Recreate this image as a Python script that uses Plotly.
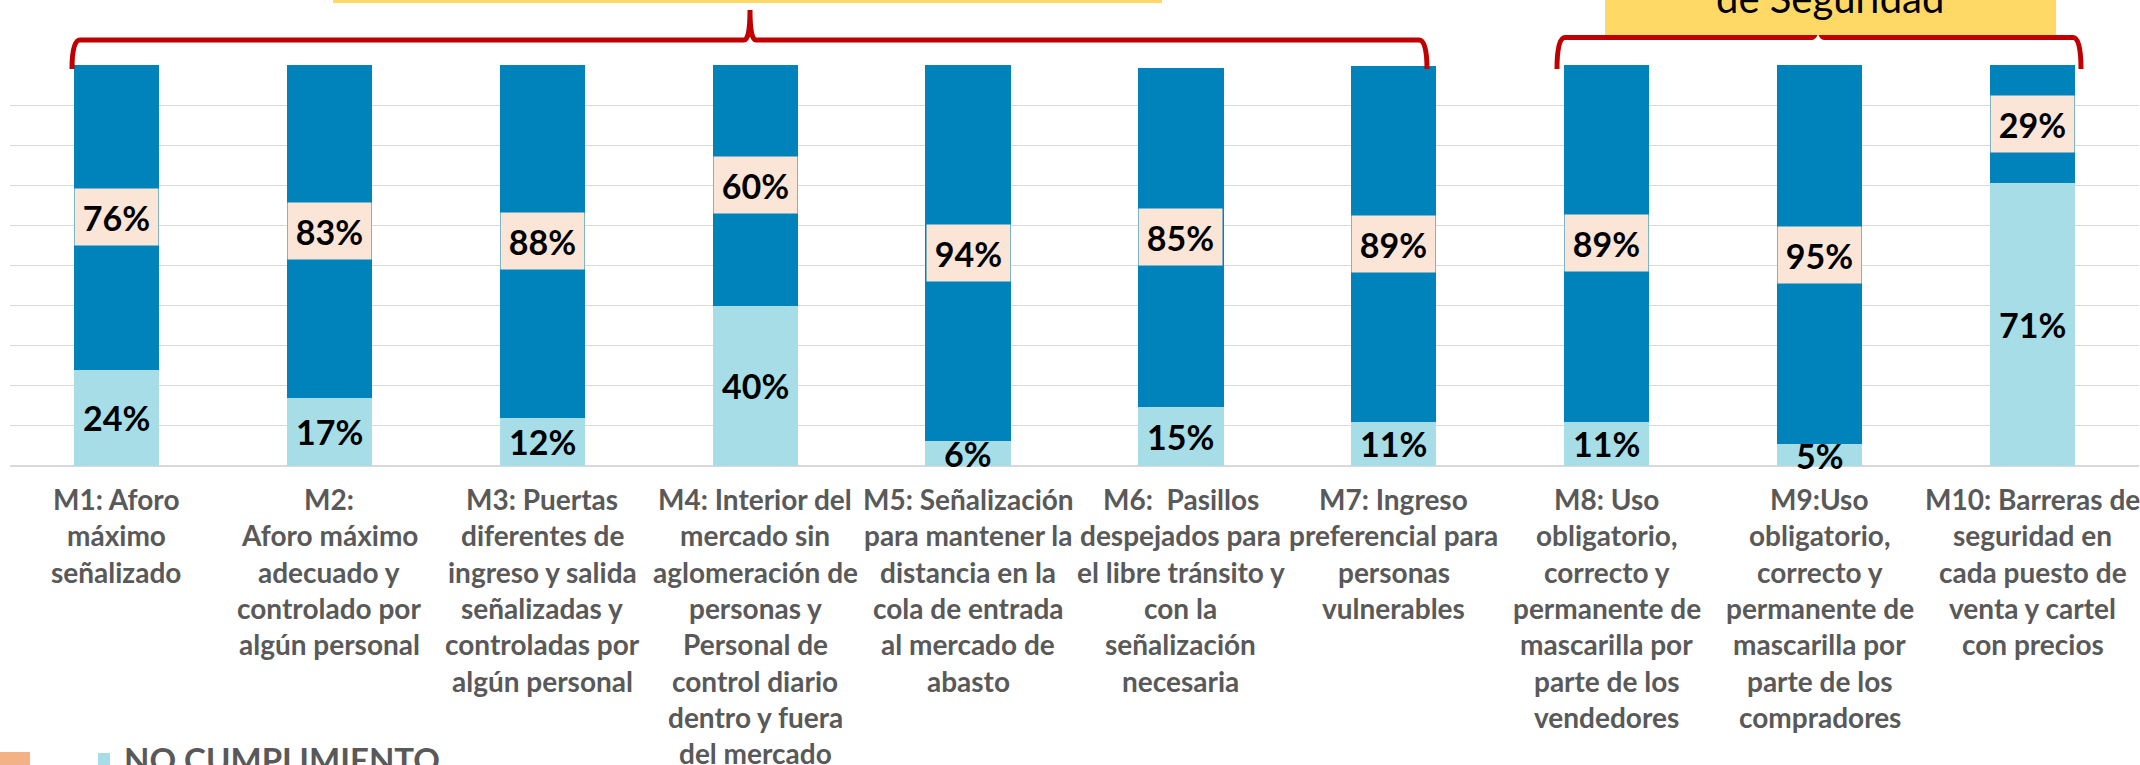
import plotly.graph_objects as go

# ---------------- data ----------------
categories = ["M1", "M2", "M3", "M4", "M5", "M6", "M7", "M8", "M9", "M10"]
no_cumplimiento = [0.24, 0.17, 0.12, 0.40, 0.062, 0.147, 0.11, 0.11, 0.054, 0.706]
cumplimiento = [0.76, 0.83, 0.88, 0.60, 0.938, 0.846, 0.887, 0.89, 0.946, 0.294]
category_labels = [
    ["M1: Aforo", "máximo", "señalizado"],
    ["M2:", "Aforo máximo", "adecuado y", "controlado por", "algún personal"],
    ["M3: Puertas", "diferentes de", "ingreso y salida", "señalizadas y", "controladas por", "algún personal"],
    ["M4: Interior del", "mercado sin", "aglomeración de", "personas y", "Personal de", "control diario",
     "dentro y fuera", "del mercado"],
    ["M5: Señalización", "para mantener la", "distancia en la", "cola de entrada", "al mercado de", "abasto"],
    ["M6:  Pasillos", "despejados para", "el libre tránsito y", "con la", "señalización", "necesaria"],
    ["M7: Ingreso", "preferencial para", "personas", "vulnerables"],
    ["M8: Uso", "obligatorio,", "correcto y", "permanente de", "mascarilla por", "parte de los", "vendedores"],
    ["M9:Uso", "obligatorio,", "correcto y", "permanente de", "mascarilla por", "parte de los", "compradores"],
    ["M10: Barreras de", "seguridad en", "cada puesto de", "venta y cartel", "con precios"],
]
series_names = ["NO CUMPLIMIENTO", "CUMPLIMIENTO"]
group_box_text = "de Seguridad"

# ---------------- layout helpers ----------------
W, H = 2140, 765
ML, MR, MT, MB = 10, 1, 65, 299
PW, PH = W - ML - MR, H - MT - MB
BASE = H - MB


def X(px):
    return (px - ML) / PW


def Y(py):
    return (BASE - py) / PH


FONT = "Lato, Carlito, Calibri, 'Liberation Sans', Arial, sans-serif"
LIGHT = "#A6DDE6"
DARK = "#0083BA"
BOXC = "#FBE5D6"
RED = "#C00000"
YELLOW = "#FFD966"
GRAY = "#595959"

fig = go.Figure()
fig.add_trace(go.Bar(x=categories, y=no_cumplimiento, name=series_names[0],
                     marker=dict(color=LIGHT, line=dict(width=0))))
fig.add_trace(go.Bar(x=categories, y=cumplimiento, name=series_names[1],
                     marker=dict(color=DARK, line=dict(width=0))))

annotations = []
# data labels
for c, lo, hi in zip(categories, no_cumplimiento, cumplimiento):
    annotations.append(dict(x=c, y=lo / 2, xref="x", yref="y", text=f"{lo:.0%}", showarrow=False,
                            font=dict(family=FONT, size=34, color="black", weight="bold")))
    annotations.append(dict(x=c, y=lo + hi / 2, xref="x", yref="y", text=f"{hi:.0%}", showarrow=False,
                            bgcolor=BOXC, width=81, height=54,
                            font=dict(family=FONT, size=34, color="black", weight="bold")))
# category labels, one annotation per line
for c, lines in zip(categories, category_labels):
    for i, line in enumerate(lines):
        annotations.append(dict(x=c, y=0, xref="x", yref="y", text=line, showarrow=False,
                                xanchor="center", yanchor="middle", yshift=-(33 + i * 36.3),
                                font=dict(family=FONT, size=28, color=GRAY, weight="bold")))
# yellow group box text
annotations.append(dict(x=X(1830), y=Y(-2), xref="paper", yref="paper", text=group_box_text,
                        showarrow=False, xanchor="center", yanchor="middle",
                        font=dict(family=FONT, size=40, color="black")))


def brace(xl, xr, xm, yh, ytop, yend):
    return (f"M {X(xl)},{Y(yend)} Q {X(xl)},{Y(yh)} {X(xl + 8)},{Y(yh)} "
            f"L {X(xm - 6)},{Y(yh)} Q {X(xm)},{Y(yh)} {X(xm)},{Y(ytop)} "
            f"Q {X(xm)},{Y(yh)} {X(xm + 6)},{Y(yh)} L {X(xr - 8)},{Y(yh)} "
            f"Q {X(xr)},{Y(yh)} {X(xr)},{Y(yend)}")


shapes = [
    dict(type="path", xref="paper", yref="paper", path=brace(72, 1427, 750, 40, 10, 69),
         line=dict(color=RED, width=5), layer="above"),
    dict(type="path", xref="paper", yref="paper", path=brace(1557, 2081, 1818, 37.5, 10, 69),
         line=dict(color=RED, width=5), layer="above"),
    dict(type="rect", xref="paper", yref="paper", x0=X(333), x1=X(1162), y0=Y(3), y1=Y(-80),
         fillcolor=YELLOW, line=dict(width=0), layer="above"),
    dict(type="rect", xref="paper", yref="paper", x0=X(1605), x1=X(2056), y0=Y(35), y1=Y(-80),
         fillcolor=YELLOW, line=dict(width=0), layer="above"),
    dict(type="rect", xref="paper", yref="paper", x0=X(0), x1=X(30), y0=Y(790), y1=Y(752),
         fillcolor="#F4B183", line=dict(width=0), layer="above"),
]

fig.update_layout(
    width=W, height=H,
    margin=dict(l=ML, r=MR, t=MT, b=MB, autoexpand=False),
    barmode="stack", bargap=0.6,
    paper_bgcolor="white", plot_bgcolor="white",
    showlegend=True,
    legend=dict(orientation="v", x=X(84), xanchor="left", y=Y(731), yanchor="top",
                traceorder="normal", bgcolor="rgba(0,0,0,0)",
                font=dict(family=FONT, size=33, color=GRAY, weight="bold")),
    xaxis=dict(showticklabels=False, showgrid=False, zeroline=False, showline=False,
               range=[-0.5, 9.5], ticks=""),
    yaxis=dict(range=[0, 1], dtick=0.1, tick0=0, showticklabels=False, showgrid=True,
               gridcolor="#D9D9D9", gridwidth=1.3, zeroline=True, zerolinecolor="#D9D9D9",
               zerolinewidth=2, showline=False, ticks=""),
    annotations=annotations,
    shapes=shapes,
    font=dict(family=FONT),
)

fig.write_html("out.html", config={"displayModeBar": False},
               post_script="document.body.style.margin='0px';document.body.style.overflow='hidden';")
